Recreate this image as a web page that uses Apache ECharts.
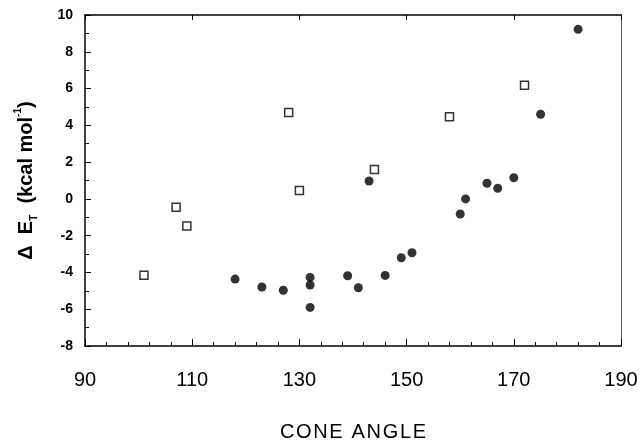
<!DOCTYPE html>
<html>
<head>
<meta charset="utf-8">
<script src="https://cdn.jsdelivr.net/npm/echarts@6/dist/echarts.min.js"></script>
<style>
  html, body { margin: 0; padding: 0; background: #fff; }
  #chart { width: 642px; height: 443px; }
</style>
</head>
<body>
<div id="chart"></div>
<script>
// open squares
const squareAngle = [101, 107, 109, 128, 130, 144, 158, 172];
const squareEnergy = [-4.15, -0.45, -1.47, 4.7, 0.45, 1.6, 4.47, 6.18];
// filled circles
const circleAngle = [118, 123, 127, 132, 132, 132, 139, 141, 143, 146, 149, 151, 160, 161, 165, 167, 170, 175, 182];
const circleEnergy = [-4.36, -4.79, -4.97, -4.27, -4.68, -5.9, -4.18, -4.83, 0.97, -4.16, -3.2, -2.93, -0.82, 0.0, 0.85, 0.58, 1.15, 4.6, 9.22];

const xTicks = { min: 90, max: 190, step: 20 };
const yTicks = { min: -8, max: 10, step: 2 };

const pair = (xs, ys) => xs.map((x, i) => [x, ys[i]]);

const chart = echarts.init(document.getElementById('chart'));
const font = 'Liberation Sans, Arial, sans-serif';

chart.setOption({
  animation: false,
  backgroundColor: '#fff',
  grid: { left: 85, right: 21, top: 15, bottom: 97, outerBoundsMode: 'none' },
  xAxis: [{
    type: 'value',
    min: xTicks.min, max: xTicks.max, interval: xTicks.step,
    name: 'CONE ANGLE'.split('').join('\u200a'),
    nameLocation: 'middle',
    nameGap: 76,
    nameTextStyle: { fontFamily: font, fontSize: 20, color: '#000' },
    axisLine: { onZero: false, lineStyle: { color: '#000', width: 1.5 } },
    axisTick: { inside: true, length: 7, lineStyle: { color: '#000' } },
    minorTick: { show: true, splitNumber: 5, length: 4, lineStyle: { color: '#000' } },
    splitLine: { show: false },
    axisLabel: { margin: 24, fontFamily: font, fontSize: 20, color: '#000' }
  }, {
    type: 'value', position: 'top',
    min: xTicks.min, max: xTicks.max, interval: xTicks.step,
    axisLine: { onZero: false, lineStyle: { color: '#000', width: 1.5 } },
    axisTick: { inside: true, length: 5, lineStyle: { color: '#000' } },
    splitLine: { show: false },
    axisLabel: { show: false }
  }],
  yAxis: [{
    type: 'value',
    min: yTicks.min, max: yTicks.max, interval: yTicks.step,
    name: '{a|Δ  E}{s|T}{a|  (kcal mol}{p|-1}{a|)}',
    nameLocation: 'middle',
    nameRotate: 90,
    nameGap: 46,
    nameTextStyle: {
      rich: {
        a: { fontFamily: font, fontSize: 20, fontWeight: 'bold', color: '#000', lineHeight: 26, verticalAlign: 'middle' },
        s: { fontFamily: font, fontSize: 10, fontWeight: 'bold', color: '#000', lineHeight: 26, verticalAlign: 'bottom', padding: [8, 0, 0, 0] },
        p: { fontFamily: font, fontSize: 10, fontWeight: 'bold', color: '#000', lineHeight: 26, verticalAlign: 'top', padding: [0, 0, 8, 0] }
      }
    },
    axisLine: { onZero: false, lineStyle: { color: '#000', width: 1.5 } },
    axisTick: { inside: true, length: 6, lineStyle: { color: '#000' } },
    minorTick: { show: true, splitNumber: 2, length: 4, lineStyle: { color: '#000' } },
    splitLine: { show: false },
    axisLabel: { margin: 12, fontFamily: font, fontSize: 14, fontWeight: 'bold', color: '#000' }
  }, {
    type: 'value', position: 'right',
    min: yTicks.min, max: yTicks.max, interval: yTicks.step,
    axisLine: { show: true, onZero: false, lineStyle: { color: '#555', width: 1 } },
    axisTick: { show: false },
    splitLine: { show: false },
    axisLabel: { show: false }
  }],
  series: [{
    type: 'scatter',
    symbol: 'rect',
    symbolSize: 8,
    itemStyle: { color: '#fff', borderColor: '#000', borderWidth: 1.5 },
    data: pair(squareAngle, squareEnergy)
  }, {
    type: 'scatter',
    symbol: 'circle',
    symbolSize: 9,
    itemStyle: { color: '#000' },
    data: pair(circleAngle, circleEnergy)
  }]
});
</script>
</body>
</html>
